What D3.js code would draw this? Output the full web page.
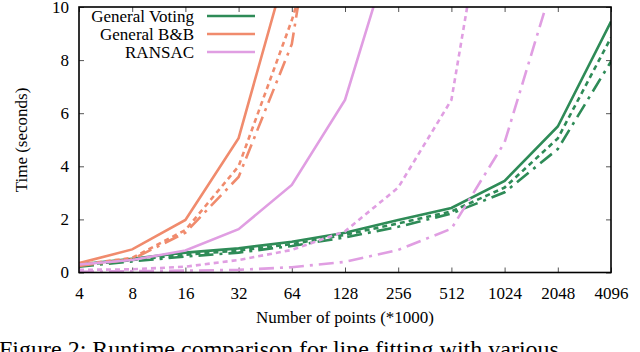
<!DOCTYPE html>
<html>
<head>
<meta charset="utf-8">
<script src="https://cdn.jsdelivr.net/npm/d3@7"></script>
<style>
  body { margin: 0; background: #fff; }
  svg text { font-family: "Liberation Serif", "DejaVu Serif", serif; fill: #000; }
</style>
</head>
<body>
<div id="chart"></div>
<script>
// data (time in seconds, points in thousands)
var points = [4, 8, 16, 32, 64, 128, 256, 512, 1024, 2048, 4096];
var yTicks = [0, 2, 4, 6, 8, 10];

var votingSolid  = [0.30, 0.52, 0.75, 0.91, 1.16, 1.50, 1.98, 2.43, 3.45, 5.50, 9.45];
var votingDotted = [0.27, 0.47, 0.67, 0.83, 1.07, 1.42, 1.85, 2.30, 3.20, 5.05, 8.85];
var votingDashed = [0.22, 0.42, 0.60, 0.75, 1.00, 1.32, 1.72, 2.22, 3.02, 4.65, 7.95];

var bbSolid  = [0.35, 0.87, 1.98, 5.06, 12.2];
var bbDotted = [0.30, 0.55, 1.60, 4.00, 9.5, 16];
var bbDashed = [0.25, 0.50, 1.50, 3.60, 8.6, 21];

var ransacSolid  = [0.30, 0.47, 0.83, 1.63, 3.30, 6.50, 13.05];
var ransacDotted = [0.10, 0.12, 0.22, 0.47, 0.85, 1.55, 3.20, 6.50, 18.3];
var ransacDashed = [0.03, 0.05, 0.07, 0.10, 0.20, 0.40, 0.85, 1.65, 4.90, 11.5];

var legendNames = ["General Voting", "General B&B", "RANSAC"];
var colors = ["#2e8b57", "#f08b6d", "#e09ee2"];

var svgWidth = 640;
var svgHeight = 352;
var margin = { top: 7, right: 29, bottom: 80, left: 79 };
var width = svgWidth - margin.left - margin.right;
var height = 272.5 - margin.top;

var svg = d3.select("#chart")
  .append("svg")
  .attr("width", svgWidth)
  .attr("height", svgHeight);

var chartGroup = svg.append("g")
  .attr("transform", `translate(${margin.left}, ${margin.top})`);

var xScale = d3.scaleLog().base(2)
  .domain([4, 4096])
  .range([0, width]);

var yScale = d3.scaleLinear()
  .domain([0, 10])
  .range([height, 0]);

// axes, ticks pointing inwards, mirrored on top and right
var fmt = d => d;
chartGroup.append("g")
  .attr("class", "axis")
  .attr("transform", `translate(0, ${height})`)
  .call(d3.axisBottom(xScale).tickValues(points).tickFormat(fmt).tickSizeInner(-5).tickSizeOuter(0).tickPadding(14));
chartGroup.append("g")
  .attr("class", "axis")
  .call(d3.axisTop(xScale).tickValues(points).tickFormat("").tickSizeInner(-5).tickSizeOuter(0));
chartGroup.append("g")
  .attr("class", "axis")
  .call(d3.axisLeft(yScale).tickValues(yTicks).tickFormat(fmt).tickSizeInner(-5).tickSizeOuter(0).tickPadding(10));
chartGroup.append("g")
  .attr("class", "axis")
  .attr("transform", `translate(${width}, 0)`)
  .call(d3.axisRight(yScale).tickValues(yTicks).tickFormat("").tickSizeInner(-5).tickSizeOuter(0));

chartGroup.selectAll(".axis .domain").remove();
chartGroup.selectAll(".axis text")
  .attr("font-size", "17px")
  .attr("font-family", "Liberation Serif");
chartGroup.selectAll(".axis line").attr("stroke", "#555").attr("stroke-width", 1);

// clip lines to the plot box
chartGroup.append("clipPath").attr("id", "plotClip")
  .append("rect").attr("width", width).attr("height", height);

var series = [
  { values: votingSolid,  color: colors[0], dash: null },
  { values: votingDotted, color: colors[0], dash: "5,4" },
  { values: votingDashed, color: colors[0], dash: "15,6,3,6" },
  { values: bbSolid,      color: colors[1], dash: null },
  { values: bbDotted,     color: colors[1], dash: "5,4" },
  { values: bbDashed,     color: colors[1], dash: "15,6,3,6" },
  { values: ransacSolid,  color: colors[2], dash: null },
  { values: ransacDotted, color: colors[2], dash: "5,4" },
  { values: ransacDashed, color: colors[2], dash: "15,6,3,6" }
];

var line = d3.line()
  .x((d, i) => xScale(points[i]))
  .y(d => yScale(d));

chartGroup.append("g")
  .attr("clip-path", "url(#plotClip)")
  .selectAll("path")
  .data(series)
  .enter()
  .append("path")
  .attr("d", d => line(d.values))
  .attr("fill", "none")
  .attr("stroke", d => d.color)
  .attr("stroke-width", 2.6)
  .attr("stroke-dasharray", d => d.dash);

// frame
chartGroup.append("rect")
  .attr("width", width)
  .attr("height", height)
  .attr("fill", "none")
  .attr("stroke", "#000")
  .attr("stroke-width", 1.6);

// legend
var legend = svg.append("g").selectAll("g")
  .data(legendNames)
  .enter()
  .append("g")
  .attr("transform", (d, i) => `translate(0, ${16 + i * 18})`);
legend.append("text")
  .attr("x", 194)
  .attr("y", 5.5)
  .attr("text-anchor", "end")
  .attr("font-size", "17px")
  .text(d => d);
legend.append("line")
  .attr("x1", 207)
  .attr("x2", 255)
  .attr("stroke", (d, i) => colors[i])
  .attr("stroke-width", 2.6);

// axis labels
svg.append("text")
  .attr("transform", "rotate(-90)")
  .attr("x", -140)
  .attr("y", 27)
  .attr("text-anchor", "middle")
  .attr("font-size", "17px")
  .text("Time (seconds)");

svg.append("text")
  .attr("x", 345)
  .attr("y", 323)
  .attr("text-anchor", "middle")
  .attr("font-size", "17px")
  .text("Number of points (*1000)");

// caption, cut off by the bottom edge
svg.append("text")
  .attr("x", -1)
  .attr("y", 357)
  .attr("font-size", "24px")
  .text("Figure 2: Runtime comparison for line fitting with various");
</script>
</body>
</html>
